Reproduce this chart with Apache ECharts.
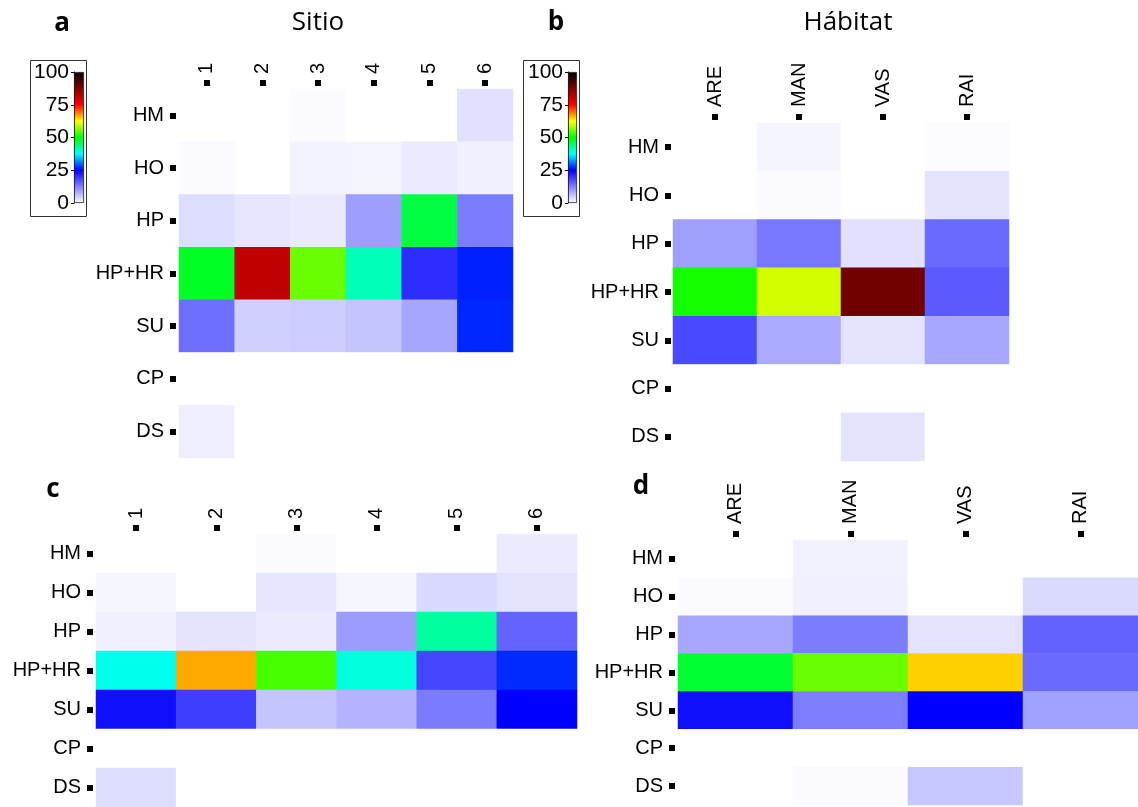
<!DOCTYPE html>
<html>
<head>
<meta charset="utf-8">
<script src="https://cdn.jsdelivr.net/npm/echarts@6/dist/echarts.min.js"></script>
<style>
html,body{margin:0;padding:0;background:#fff;}
#chart{width:1138px;height:807px;}
</style>
</head>
<body>
<div id="chart"></div>
<script>
// ---- categories ----
const rows = ['HM', 'HO', 'HP', 'HP+HR', 'SU', 'CP', 'DS'];
const sitios = ['1', '2', '3', '4', '5', '6'];
const habitats = ['ARE', 'MAN', 'VAS', 'RAI'];
const colorbarTicks = [0, 25, 50, 75, 100];
const colorbarMax = [100];

// ---- values (rows x columns) ----
const aValues = [
  [0, 0, 0.5, 0, 0, 3.0],
  [0.6, 0, 1.2, 1.1, 2.0, 1.5],
  [3.3, 2.5, 2.1, 9.5, 46.7, 12.9],
  [48.3, 81.2, 55.2, 41.0, 20.6, 26.6],
  [14.2, 4.6, 5.0, 5.8, 8.8, 26.9],
  [0, 0, 0, 0, 0, 0],
  [1.7, 0, 0, 0, 0, 0]
];
const bValues = [
  [0, 1.0, 0, 0.3],
  [0, 0.5, 0, 2.8],
  [9.4, 13.3, 3.0, 14.6],
  [50.9, 60.3, 88.9, 16.2],
  [17.9, 8.4, 2.8, 8.7],
  [0, 0, 0, 0],
  [0, 0, 2.8, 0]
];
const cValues = [
  [0, 0, 0.5, 0, 0, 2.0],
  [0.9, 0, 2.5, 0.9, 3.7, 2.8],
  [1.5, 2.8, 2.0, 9.7, 42.2, 15.3],
  [38.3, 66.7, 53.3, 39.2, 18.3, 27.1],
  [23.4, 18.9, 5.8, 7.5, 13.0, 25.0],
  [0, 0, 0, 0, 0, 0],
  [3.3, 0, 0, 0, 0, 0]
];
const dValues = [
  [0, 1.3, 0, 0],
  [0.4, 1.5, 0, 3.6],
  [8.7, 12.9, 2.8, 15.4],
  [47.5, 55.2, 64.8, 14.6],
  [23.4, 12.8, 25.0, 9.3],
  [0, 0, 0, 0],
  [0, 0.5, 5.5, 0]
];

// ---- colour scale (0 -> 100, evenly spaced) ----
const scaleColors = ['#ffffff', '#8080ff', '#0000ff', '#00ffff', '#00ff00', '#ffff00', '#ff0000', '#800000', '#000000'];

function toTriples(matrix) {
  const out = [];
  matrix.forEach((row, r) => row.forEach((v, c) => out.push([c, r, v])));
  return out;
}

const axisFont = 'Arial, "Liberation Sans", sans-serif';

function catX(gridIndex, data, margin) {
  return {
    type: 'category', gridIndex, data, position: 'top', offset: 3,
    axisLine: {show: false},
    axisTick: {show: true, alignWithLabel: true, length: 6, lineStyle: {width: 6, color: '#000'}},
    axisLabel: {rotate: -90, margin: margin, fontSize: 20, color: '#000', fontFamily: axisFont},
    splitLine: {show: false}
  };
}
function catY(gridIndex, offset) {
  return {
    type: 'category', gridIndex, data: rows, inverse: true, offset: offset,
    axisLine: {show: false},
    axisTick: {show: true, alignWithLabel: true, length: 6, lineStyle: {width: 6, color: '#000'}},
    axisLabel: {margin: 12, fontSize: 20, color: '#000', fontFamily: axisFont},
    splitLine: {show: false}
  };
}
function cbX(gridIndex) {
  return {type: 'category', gridIndex, data: [''], show: false};
}
function cbY(gridIndex) {
  return {
    type: 'value', gridIndex, min: 0, max: 100, interval: 25,
    axisLine: {show: true, lineStyle: {color: '#000', width: 1}},
    axisTick: {show: true, length: 3, lineStyle: {color: '#000'}},
    axisLabel: {margin: 5, fontSize: 21, color: '#000', fontFamily: axisFont,
      formatter: v => colorbarTicks.indexOf(v) >= 0 ? String(v) : ''},
    splitLine: {show: false}
  };
}
const gradientStops = scaleColors.map((c, i) => ({offset: 1 - i / (scaleColors.length - 1), color: c}));

function cbSeries(idx) {
  return {
    type: 'bar', xAxisIndex: idx, yAxisIndex: idx, data: colorbarMax, barWidth: '100%', silent: true,
    itemStyle: {
      color: new echarts.graphic.LinearGradient(0, 0, 0, 1, gradientStops.slice().reverse()),
      borderColor: '#222', borderWidth: 0.8
    }
  };
}

function heat(idx, matrix) {
  return {
    type: 'heatmap', xAxisIndex: idx, yAxisIndex: idx, data: toTriples(matrix),
    itemStyle: {borderWidth: 0}, emphasis: {disabled: true}, progressive: 0
  };
}

const chart = echarts.init(document.getElementById('chart'), null, {renderer: 'canvas'});
chart.setOption({
  animation: false,
  backgroundColor: '#fff',
  grid: [
    {left: 179, top: 89, width: 334, height: 369},
    {left: 673, top: 123, width: 336, height: 338},
    {left: 96, top: 534, width: 481, height: 278},
    {left: 678, top: 540, width: 466, height: 265},
    {left: 74, top: 72, width: 10, height: 131},
    {left: 568, top: 72, width: 9, height: 131}
  ],
  xAxis: [catX(0, sitios, 12), catX(1, habitats, 13), catX(2, sitios, 12), catX(3, habitats, 13), cbX(4), cbX(5)],
  yAxis: [catY(0, 3), catY(1, 2), catY(2, 3), catY(3, 3), cbY(4), cbY(5)],
  visualMap: {
    type: 'continuous', show: false, min: 0, max: 100, dimension: 2,
    seriesIndex: [0, 1, 2, 3],
    inRange: {color: scaleColors}
  },
  series: [heat(0, aValues), heat(1, bValues), heat(2, cValues), heat(3, dValues), cbSeries(4), cbSeries(5)],
  graphic: [
    {type: 'rect', shape: {x: 30.5, y: 60.5, width: 56, height: 156}, style: {fill: 'none', stroke: '#333', lineWidth: 1}},
    {type: 'rect', shape: {x: 523.5, y: 60.5, width: 56, height: 156}, style: {fill: 'none', stroke: '#333', lineWidth: 1}},
    {type: 'text', x: 62, y: 24, style: {text: 'a', font: 'bold 26px "Open Sans"', fill: '#000', align: 'center', verticalAlign: 'middle'}},
    {type: 'text', x: 318, y: 23, style: {text: 'Sitio', font: '26px "Open Sans"', fill: '#000', align: 'center', verticalAlign: 'middle'}},
    {type: 'text', x: 556, y: 23, style: {text: 'b', font: 'bold 26px "Open Sans"', fill: '#000', align: 'center', verticalAlign: 'middle'}},
    {type: 'text', x: 848, y: 23, style: {text: 'Hábitat', font: '26px "Open Sans"', fill: '#000', align: 'center', verticalAlign: 'middle'}},
    {type: 'text', x: 53, y: 490, style: {text: 'c', font: 'bold 26px "Open Sans"', fill: '#000', align: 'center', verticalAlign: 'middle'}},
    {type: 'text', x: 641, y: 487, style: {text: 'd', font: 'bold 26px "Open Sans"', fill: '#000', align: 'center', verticalAlign: 'middle'}}
  ]
});
</script>
</body>
</html>
